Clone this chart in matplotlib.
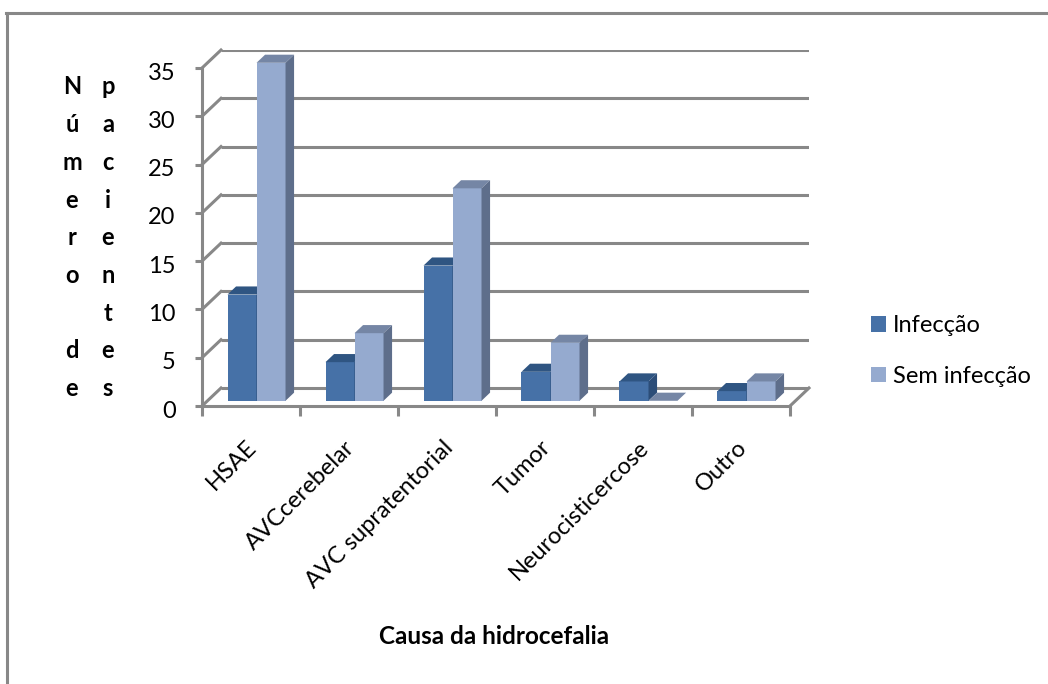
import numpy as np
import matplotlib
matplotlib.use("Agg")
import matplotlib.pyplot as plt
from matplotlib.patches import Polygon
from matplotlib.lines import Line2D
from matplotlib.transforms import ScaledTranslation

plt.rcParams['font.family'] = ['Lato', 'DejaVu Sans']

# Data
categories = ["HSAE", "AVCcerebelar", "AVC supratentorial", "Tumor",
              "Neurocisticercose", "Outro"]
series_names = ["Infecção", "Sem infecção"]
infeccao = [11, 4, 14, 3, 2, 1]
sem_infeccao = [35, 7, 22, 6, 0, 2]
y_ticks = [0, 5, 10, 15, 20, 25, 30, 35]

# Colours for front / top / side faces of each series
front_cols = ["#4671a7", "#95aacf"]
top_cols = ["#2f5582", "#7586a5"]
side_cols = ["#2c4d78", "#5e6e8b"]
grid_col = "#888888"

W, H = 1048, 684
fig = plt.figure(figsize=(W / 100, H / 100), dpi=100)

# Oblique depth of the 3D box, in data units
DX = 0.194
DY = 1.865
ymax = max(y_ticks)
ncat = len(categories)

left_px, right_px, bottom_px, top_px = 202, 809, 406, 50
ax = fig.add_axes([left_px / W, 1 - bottom_px / H,
                   (right_px - left_px) / W, (bottom_px - top_px) / H])
ax.set_xlim(-0.5, ncat - 0.5 + DX)
ax.set_ylim(0, ymax + DY)
ax.patch.set_visible(False)

lw = 2.2
# back wall gridlines and left wall diagonals
for v in y_ticks:
    ax.plot([-0.5 + DX, ncat - 0.5 + DX], [v + DY, v + DY],
            color=grid_col, lw=lw, solid_capstyle='butt', zorder=1)
    ax.plot([-0.5, -0.5 + DX], [v, v + DY], color=grid_col, lw=lw,
            zorder=1, clip_on=False)
# floor right edge
ax.plot([ncat - 0.5, ncat - 0.5 + DX], [0, DY], color=grid_col, lw=lw,
        zorder=1, clip_on=False)

# Spines as the front axis edges
for s in ["top", "right"]:
    ax.spines[s].set_visible(False)
for s in ["left", "bottom"]:
    ax.spines[s].set_color(grid_col)
    ax.spines[s].set_linewidth(lw)
ax.spines["left"].set_bounds(0, ymax)
ax.spines["bottom"].set_bounds(-0.5, ncat - 0.5)

ax.set_yticks(y_ticks)
ax.set_yticklabels([str(t) for t in y_ticks], fontsize=17)
ax.tick_params(axis='y', length=5, width=lw, color=grid_col, pad=14)
down = ScaledTranslation(0, -3 / 100, fig.dpi_scale_trans)
for lab in ax.get_yticklabels():
    lab.set_transform(lab.get_transform() + down)

ax.set_xticks(np.arange(-0.5, ncat, 1.0))
ax.set_xticklabels([])
ax.tick_params(axis='x', which='major', length=7, width=lw, color=grid_col)
ax.set_xticks(np.arange(ncat), minor=True)
ax.set_xticklabels(categories, minor=True, fontsize=17, rotation=45,
                   ha='right', rotation_mode='anchor')
ax.tick_params(axis='x', which='minor', length=0, pad=22)
left_shift = ScaledTranslation(-5 / 100, 0, fig.dpi_scale_trans)
for lab in ax.get_xticklabels(minor=True):
    lab.set_transform(lab.get_transform() + left_shift)

# 3D columns
f = 0.29     # depth position of the front face
d = 0.45     # column depth fraction
w = 0.296    # column width
handles = []
for s_idx, vals in enumerate([infeccao, sem_infeccao]):
    xs = np.arange(ncat) - w + s_idx * w + f * DX
    base = f * DY
    bars = ax.bar(xs, vals, width=w, bottom=base, align='edge',
                  color=front_cols[s_idx], linewidth=0, zorder=3 + s_idx)
    handles.append(bars)
    for x0, v in zip(xs, vals):
        top = base + v
        ax.add_patch(Polygon([(x0, top), (x0 + w, top),
                              (x0 + w + d * DX, top + d * DY),
                              (x0 + d * DX, top + d * DY)],
                             closed=True, facecolor=top_cols[s_idx],
                             edgecolor='none', zorder=3 + s_idx))
        if v > 0:
            ax.add_patch(Polygon([(x0 + w, base), (x0 + w + d * DX, base + d * DY),
                                  (x0 + w + d * DX, top + d * DY), (x0 + w, top)],
                                 closed=True, facecolor=side_cols[s_idx],
                                 edgecolor='none', zorder=3 + s_idx))

# Legend
fig.legend(handles, series_names, loc='center left',
           bbox_to_anchor=(859 / W, 1 - 351 / H), frameon=False,
           fontsize=17, handlelength=0.65, handleheight=0.65,
           handletextpad=0.3, labelspacing=1.25, borderpad=0)

# Axis titles
fig.text(494 / W, 1 - 637 / H, "Causa da hidrocefalia", fontsize=17.5,
         fontweight='bold', ha='center', va='center')
step = 37.7
for col_x, word in [(72, "Número de"), (108, "pacientes")]:
    for i, ch in enumerate(word):
        fig.text(col_x / W, 1 - (87 + i * step) / H, ch, fontsize=17,
                 fontweight='bold', ha='center', va='center')

# Chart frame (top and left edges)
fig.add_artist(Line2D([6 / W, 1], [1 - 13 / H, 1 - 13 / H],
                      color=grid_col, lw=2.2, transform=fig.transFigure))
fig.add_artist(Line2D([7 / W, 7 / W], [1 - 13 / H, 0],
                      color=grid_col, lw=2.2, transform=fig.transFigure))

fig.savefig("out.png", dpi=100)
